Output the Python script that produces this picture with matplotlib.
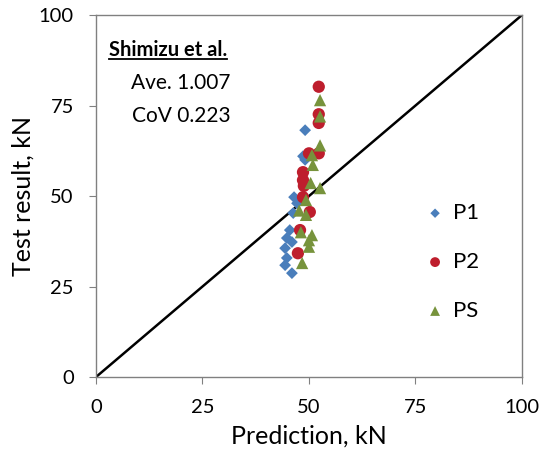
import matplotlib
matplotlib.use("Agg")
import matplotlib.pyplot as plt
from matplotlib.lines import Line2D

plt.rcParams['font.family'] = ['Lato', 'DejaVu Sans']

p1_x = [49.1, 48.6, 49.1, 46.5, 47.2, 46.3, 45.5, 44.8, 46.0, 44.4, 44.8, 44.4, 46.0]
p1_y = [68.2, 61.0, 60.0, 49.7, 48.0, 45.3, 40.6, 38.4, 37.3, 35.6, 32.9, 30.9, 28.7]
p2_x = [52.3, 52.3, 52.3, 50.0, 52.3, 48.6, 48.6, 48.8, 48.6, 50.2, 47.9, 47.4]
p2_y = [80.2, 72.6, 70.2, 61.8, 61.8, 56.6, 54.4, 52.8, 49.7, 45.6, 40.6, 34.2]
ps_x = [52.6, 52.6, 52.6, 50.7, 50.9, 50.4, 52.6, 49.3, 47.7, 49.3, 48.1, 50.7, 50.0, 50.0, 48.4]
ps_y = [76.5, 72.0, 64.0, 61.3, 58.6, 53.6, 52.2, 48.9, 46.0, 44.8, 40.0, 39.2, 37.8, 36.0, 31.5]
ticks = [0, 25, 50, 75, 100]

fig = plt.figure(figsize=(5.5, 4.57), dpi=100)
ax = fig.add_axes([0.1745, 0.175, 0.7745, 0.792])

ax.plot([0, 100], [0, 100], color='black', lw=1.8, zorder=1)
ax.scatter(p1_x, p1_y, marker='D', s=36, color='#4A7EBB', edgecolors='none', label='P1', zorder=3)
ax.scatter(p2_x, p2_y, marker='o', s=78, color='#BE1E2D', edgecolors='none', label='P2', zorder=4)
ax.scatter(ps_x, ps_y, marker='^', s=78, color='#77933C', edgecolors='none', label='PS', zorder=5)

ax.set_xlim(0, 100)
ax.set_ylim(0, 100)
ax.set_xticks(ticks)
ax.set_yticks(ticks)
for s in ax.spines.values():
    s.set_color('#808080')
    s.set_linewidth(1.0)
ax.tick_params(direction='out', length=5, color='#808080', labelsize=14.5, labelcolor='black')
ax.tick_params(axis='x', pad=11)
ax.tick_params(axis='y', pad=11)
ax.set_xlabel('Prediction, kN', fontsize=18, labelpad=6)
ax.set_ylabel('Test result, kN', fontsize=18, labelpad=3)

leg = ax.legend(loc='center left', bbox_to_anchor=(0.723, 0.318), frameon=False, fontsize=16,
                labelspacing=1.3, handletextpad=0.3, handlelength=1.0, markerscale=0.8)

t1 = ax.text(16.9, 90.3, 'Shimizu et al.', fontsize=14.5, fontweight='bold', ha='center', va='center')
ax.text(20.0, 81.2, 'Ave. 1.007', fontsize=15, ha='center', va='center')
ax.text(20.0, 72.1, 'CoV 0.223', fontsize=15, ha='center', va='center')

fig.canvas.draw()
bb = t1.get_window_extent(renderer=fig.canvas.get_renderer())
inv = fig.transFigure.inverted()
(x0, y0), (x1, y1) = inv.transform([(bb.x0, bb.y0 + 1), (bb.x1, bb.y0 + 1)])
fig.add_artist(Line2D([x0, x1], [y0, y1], color='black', lw=1.3, transform=fig.transFigure))

fig.savefig('out.png', dpi=100)
